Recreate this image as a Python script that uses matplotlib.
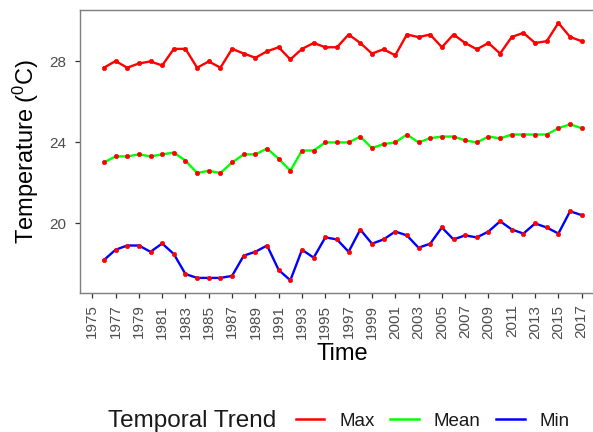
"""
Temporal trend of max, mean and min temperature (1976-2017).
"""

import matplotlib
matplotlib.use("Agg")
import matplotlib.pyplot as plt
from matplotlib.lines import Line2D

# data
years = list(range(1976, 2018))

t_max = [27.69, 28.02, 27.69, 27.90, 28.00, 27.80, 28.62, 28.62, 27.69, 28.00,
         27.69, 28.62, 28.39, 28.18, 28.50, 28.70, 28.10, 28.62, 28.91, 28.70,
         28.70, 29.33, 28.91, 28.39, 28.60, 28.30, 29.33, 29.20, 29.33, 28.70,
         29.33, 28.91, 28.60, 28.91, 28.39, 29.21, 29.41, 28.91, 29.00, 29.90,
         29.21, 29.00]

t_mean = [23.01, 23.31, 23.31, 23.41, 23.31, 23.41, 23.50, 23.10, 22.49, 22.60,
          22.49, 23.01, 23.41, 23.41, 23.70, 23.19, 22.60, 23.60, 23.60, 24.00,
          24.00, 24.00, 24.29, 23.72, 23.92, 24.00, 24.39, 24.00, 24.21, 24.29,
          24.29, 24.10, 24.00, 24.29, 24.20, 24.39, 24.39, 24.39, 24.39, 24.70,
          24.90, 24.70]

t_min = [18.19, 18.70, 18.91, 18.91, 18.60, 19.01, 18.49, 17.50, 17.31, 17.31,
         17.31, 17.41, 18.41, 18.60, 18.91, 17.70, 17.19, 18.70, 18.31, 19.31,
         19.21, 18.60, 19.70, 19.00, 19.21, 19.60, 19.41, 18.80, 19.00, 19.80,
         19.21, 19.41, 19.31, 19.60, 20.11, 19.70, 19.50, 20.00, 19.80, 19.50,
         20.60, 20.41]

series_names = ["Max", "Mean", "Min"]
series_colours = ["#FF0000", "#00FF00", "#0000FF"]
x_ticks = list(range(1975, 2018, 2))
y_ticks = [20, 24, 28]

plt.rcParams["font.family"] = ["Liberation Sans", "DejaVu Sans"]
plt.rcParams["mathtext.fontset"] = "custom"
plt.rcParams["mathtext.rm"] = "Liberation Sans"
plt.rcParams["mathtext.it"] = "Liberation Sans:italic"

fig = plt.figure(figsize=(5.93, 4.32), dpi=100)
# the panel runs past the right edge of the picture, as in the reference
ax = fig.add_axes([80 / 593, 1 - 293.3 / 432, 525.6 / 593, 283.3 / 432])

for values, colour in zip([t_max, t_mean, t_min], series_colours):
    ax.plot(years, values, color=colour, linewidth=1.7, zorder=2)
for values in [t_max, t_mean, t_min]:
    ax.plot(years, values, linestyle="none", marker="o", markersize=3.2,
            markeredgewidth=0.4, color="#FF0000", zorder=3)

ax.set_xlim(1973.95, 2019.05)
ax.set_ylim(16.55, 30.54)
ax.set_xticks(x_ticks)
ax.set_xticklabels([str(y) for y in x_ticks], rotation=90)
ax.set_yticks(y_ticks)

for spine in ax.spines.values():
    spine.set_color("#7F7F7F")
    spine.set_linewidth(1.0)

ax.tick_params(axis="both", length=3.6, width=0.9, color="#333333",
               labelcolor="#4D4D4D", labelsize=11)
ax.tick_params(axis="x", pad=4.5)
ax.tick_params(axis="y", pad=6)

ax.set_xlabel("Time", fontsize=17, color="black", labelpad=3.5)
ax.set_ylabel("Temperature ($^{0}$C)", fontsize=17, color="black", labelpad=6)

# legend at the bottom, title inline on the left
fig.text(108 / 593, (432 - 421) / 432, "Temporal Trend", fontsize=17.5,
         ha="left", va="center", color="#1A1A1A")
handles = [Line2D([0], [0], color=c, linewidth=1.8) for c in series_colours]
fig.legend(handles, series_names, ncol=3, frameon=False,
           loc="center left", bbox_to_anchor=(296 / 593, (432 - 421) / 432),
           fontsize=13.5, handlelength=1.5, handletextpad=0.8,
           columnspacing=0.85, borderpad=0, borderaxespad=0,
           labelcolor="#1A1A1A")

fig.savefig("out.png", dpi=100)
